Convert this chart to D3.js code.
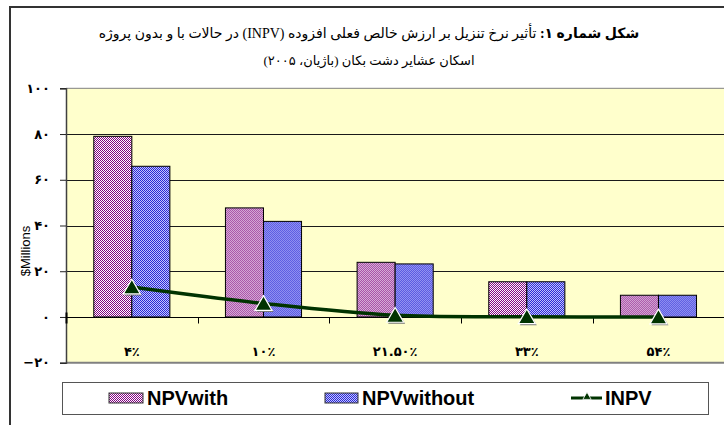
<!DOCTYPE html>
<html>
<head>
<meta charset="utf-8">
<script src="https://cdn.jsdelivr.net/npm/d3@7"></script>
<style>
  body { margin: 0; background: #fff; }
  svg { display: block; }
</style>
</head>
<body>
<div class="chart"></div>
<script>
const width = 724;
const height = 425;

// data
const categories = ['۴٪', '۱۰٪', '۲۱.۵۰٪', '۳۳٪', '۵۴٪'];
const npvWith = [79.0, 47.7, 23.9, 15.4, 9.5];
const npvWithout = [65.9, 41.8, 23.2, 15.4, 9.5];
const inpv = [13.1, 5.9, 0.7, 0.1, 0.0];
const yTicks = [-20, 0, 20, 40, 60, 80, 100];
const yTickLabels = ['−۲۰', '۰', '۲۰', '۴۰', '۶۰', '۸۰', '۱۰۰'];

const plot = { left: 66, right: 724.3, top: 88.3, bottom: 362.7 };

const color = {
  plotBg: '#ffffcc',
  grid: '#1a1a1a',
  line: '#003300',
  border: '#333',
};

const svg = d3.select('.chart')
  .append('svg')
    .attr('width', width)
    .attr('height', height);

const defs = svg.append('defs');

function checker(id, fg, bg) {
  const p = defs.append('pattern')
    .attr('id', id)
    .attr('patternUnits', 'userSpaceOnUse')
    .attr('width', 2)
    .attr('height', 2);
  p.append('rect').attr('width', 2).attr('height', 2).attr('fill', bg);
  p.append('rect').attr('width', 1).attr('height', 1).attr('fill', fg);
  p.append('rect').attr('x', 1).attr('y', 1).attr('width', 1).attr('height', 1).attr('fill', fg);
}
checker('pink', '#800080', '#ffffff');
checker('blue', '#2a2ad4', '#c4c4ff');

// outer chart frame (only top and left show)
svg.append('path')
  .attr('d', d3.line()([[10, 425], [10, 7], [724, 7]]))
  .attr('fill', 'none')
  .attr('stroke', color.border)
  .attr('stroke-width', 2);

// title
const title = svg.append('text')
  .attr('x', 369)
  .attr('y', 38)
  .attr('direction', 'rtl')
  .attr('text-anchor', 'middle')
  .style('font-family', '"Liberation Serif", "DejaVu Sans"')
  .style('font-size', '14px');
title.append('tspan')
  .style('font-weight', 'bold')
  .text('شکل شماره ۱: ');
title.append('tspan')
  .text('تأثیر نرخ تنزیل بر ارزش خالص فعلی افزوده (INPV) در حالات با و بدون پروژه');

svg.append('text')
  .attr('x', 369)
  .attr('y', 65)
  .attr('direction', 'rtl')
  .attr('text-anchor', 'middle')
  .style('font-family', '"Liberation Serif", "DejaVu Sans"')
  .style('font-size', '13px')
  .text('اسکان عشایر دشت بکان (باژیان، ۲۰۰۵)');

// scales
const x = d3.scaleBand()
  .domain(categories)
  .range([plot.left, plot.right])
  .paddingInner(0)
  .paddingOuter(0);

const xSub = d3.scaleBand()
  .domain(['with', 'without'])
  .range([x.bandwidth() * 0.211, x.bandwidth() * 0.789]);

const y = d3.scaleLinear()
  .domain([-20, 100])
  .range([plot.bottom, plot.top]);

// plot background
svg.append('rect')
  .attr('x', plot.left)
  .attr('y', plot.top)
  .attr('width', plot.right - plot.left)
  .attr('height', plot.bottom - plot.top)
  .attr('fill', color.plotBg);

// gridlines
svg.append('g')
  .selectAll('line')
  .data(yTicks.filter(d => d > -20 && d < 100))
  .join('line')
    .attr('x1', plot.left)
    .attr('x2', plot.right)
    .attr('y1', d => Math.round(y(d)) + 0.5)
    .attr('y2', d => Math.round(y(d)) + 0.5)
    .attr('stroke', color.grid);

// plot border top / bottom
svg.append('line')
  .attr('x1', plot.left).attr('x2', plot.right)
  .attr('y1', plot.top).attr('y2', plot.top)
  .attr('stroke', '#808080');
svg.append('line')
  .attr('x1', plot.left).attr('x2', plot.right)
  .attr('y1', plot.bottom).attr('y2', plot.bottom)
  .attr('stroke', '#808080')
  .attr('stroke-width', 2);

// y axis
const yAxis = svg.append('g')
  .attr('transform', `translate(${plot.left},0)`)
  .call(d3.axisLeft(y)
    .tickValues(yTicks)
    .tickSize(6)
    .tickFormat((d, i) => yTickLabels[i]));
yAxis.select('.domain').attr('stroke', '#404040').attr('stroke-width', 1.5);
yAxis.selectAll('.tick line').attr('stroke', '#222');
yAxis.selectAll('.tick text')
  .attr('x', -16)
  .style('font-family', '"DejaVu Sans"')
  .style('font-size', '13px')
  .style('font-weight', 'bold')
  .attr('fill', '#000');

svg.append('text')
  .attr('transform', 'translate(30,251) rotate(-90)')
  .attr('text-anchor', 'middle')
  .style('font-family', '"Liberation Sans", Arial')
  .style('font-size', '13px')
  .text('$Millions');

// bars
const groups = svg.append('g')
  .selectAll('g')
  .data(categories.map((c, i) => ({ c, with: npvWith[i], without: npvWithout[i] })))
  .join('g')
    .attr('transform', d => `translate(${x(d.c)},0)`);

groups.selectAll('rect')
  .data(d => [{ k: 'with', v: d.with }, { k: 'without', v: d.without }])
  .join('rect')
    .attr('x', d => xSub(d.k))
    .attr('y', d => y(d.v))
    .attr('width', xSub.bandwidth())
    .attr('height', d => y(0) - y(d.v))
    .attr('fill', d => d.k === 'with' ? 'url(#pink)' : 'url(#blue)')
    .attr('stroke', '#000')
    .attr('stroke-width', 1);

// x axis on zero line
const xAxis = svg.append('g')
  .attr('transform', `translate(0,${Math.round(y(0)) + 0.5})`);
xAxis.append('line')
  .attr('x1', plot.left).attr('x2', plot.right)
  .attr('stroke', '#000');
xAxis.selectAll('.xtick')
  .data(categories)
  .join('line')
    .attr('class', 'xtick')
    .attr('x1', d => Math.round(x(d)) + 0.5)
    .attr('x2', d => Math.round(x(d)) + 0.5)
    .attr('y1', d => d === categories[0] ? -5 : 0)
    .attr('y2', 6)
    .attr('stroke', '#000')
    .attr('stroke-width', d => d === categories[0] ? 2 : 1);

svg.append('g')
  .selectAll('text')
  .data(categories)
  .join('text')
    .attr('x', d => x(d) + x.bandwidth() / 2)
    .attr('y', 356)
    .attr('text-anchor', 'middle')
    .style('font-family', '"DejaVu Sans"')
    .style('font-size', '13px')
    .style('font-weight', 'bold')
    .text(d => d);

// INPV line
const linePts = categories.map((c, i) => [x(c) + x.bandwidth() / 2, y(inpv[i])]);
svg.append('path')
  .attr('d', d3.line().curve(d3.curveCatmullRom.alpha(0.5))(linePts))
  .attr('fill', 'none')
  .attr('stroke', color.line)
  .attr('stroke-width', 3.5);

const tri = d3.symbol().type(d3.symbolTriangle).size(125);
const markers = svg.append('g')
  .selectAll('g')
  .data(linePts)
  .join('g')
    .attr('transform', d => `translate(${d[0]},${d[1] + 2})`);
markers.append('path')
  .attr('d', tri)
  .attr('transform', 'translate(1.5,1.5)')
  .attr('fill', '#777');
markers.append('path')
  .attr('d', tri)
  .attr('fill', color.line)
  .attr('stroke', '#fff')
  .attr('stroke-width', 1.2);

// legend
const legend = svg.append('g');
legend.append('rect')
  .attr('x', 62.5)
  .attr('y', 382.5)
  .attr('width', 646)
  .attr('height', 32)
  .attr('fill', '#fff')
  .attr('stroke', '#555');

const legendFont = sel => sel
  .style('font-family', '"Liberation Sans", Arial')
  .style('font-size', '20px')
  .style('font-weight', 'bold')
  .attr('dominant-baseline', 'central');

legend.append('rect')
  .attr('x', 109).attr('y', 393)
  .attr('width', 34).attr('height', 10)
  .attr('fill', 'url(#pink)')
  .attr('stroke', '#333');
legend.append('text')
  .attr('x', 147).attr('y', 398)
  .call(legendFont)
  .text('NPVwith');

legend.append('rect')
  .attr('x', 325).attr('y', 393)
  .attr('width', 33).attr('height', 10)
  .attr('fill', 'url(#blue)')
  .attr('stroke', '#333');
legend.append('text')
  .attr('x', 362).attr('y', 398)
  .call(legendFont)
  .text('NPVwithout');

legend.append('line')
  .attr('x1', 571).attr('x2', 602)
  .attr('y1', 398).attr('y2', 398)
  .attr('stroke', color.line)
  .attr('stroke-width', 3);
legend.append('path')
  .attr('d', d3.symbol().type(d3.symbolTriangle).size(30))
  .attr('transform', 'translate(587,397)')
  .attr('fill', color.line)
  .attr('stroke', '#fff')
  .attr('stroke-width', 0.8);
legend.append('text')
  .attr('x', 605).attr('y', 398)
  .call(legendFont)
  .text('INPV');
</script>
</body>
</html>
